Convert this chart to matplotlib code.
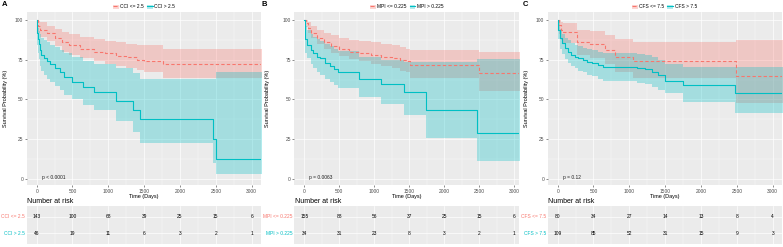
import numpy as np
import matplotlib
matplotlib.use('Agg')
import matplotlib.pyplot as plt
from matplotlib.patches import Patch
from matplotlib.lines import Line2D

plt.rcParams['font.family'] = ['Liberation Sans', 'DejaVu Sans']

RED = '#F8766D'
TEAL = '#00BFC4'
BG = '#EBEBEB'

# ---- panel A : CCI ----
a_lo_t  = [0, 20, 50, 150, 250, 350, 450, 600, 800, 950, 1100, 1250, 1400, 1500, 1767]
a_lo_s  = [100, 96, 94, 92, 89, 86, 84, 82, 80, 79, 77.5, 76.5, 75, 74, 72]
a_lo_l  = [100, 92, 89.5, 86.5, 83.5, 80, 78, 76, 74, 72.5, 71, 70, 68.5, 67.5, 63.3]
a_lo_u  = [100, 99.5, 98.5, 96.5, 94.5, 92.5, 91, 89.5, 88, 87, 86, 85, 84.5, 84, 81.7]

a_hi_t  = [0, 10, 20, 30, 45, 60, 100, 140, 190, 250, 320, 380, 500, 640, 800, 1100, 1350, 1440, 2460, 2500]
a_hi_s  = [100, 92, 88, 85, 81, 78, 76, 74, 72, 70, 67, 64, 61, 57.5, 54.5, 49, 43, 37.5, 25, 12.5]
a_hi_l  = [100, 84, 79, 75.5, 71, 68, 65.5, 63, 61, 58.5, 56, 53, 50, 46.5, 43, 36.5, 29.5, 22.7, 9.7, 2.8]
a_hi_u  = [100, 97, 95, 93, 91, 89, 87.5, 86, 84.5, 83, 81, 79, 77, 74.5, 72.5, 70, 66.5, 63, 63, 67.4]

# ---- panel B : MPI ----
b_lo_t  = [0, 20, 50, 100, 180, 280, 380, 500, 640, 780, 950, 1100, 1250, 1370, 1450, 1510, 2496]
b_lo_s  = [100, 98, 95, 92, 89, 86, 83.5, 82, 80, 79, 78, 77, 76, 75, 74, 71.6, 66.8]
b_lo_l  = [100, 95.5, 92, 88.5, 85, 82, 79.5, 77.5, 75.5, 74, 72.5, 71, 69.5, 68, 67, 63.3, 55.5]
b_lo_u  = [100, 99.8, 98.5, 96, 94, 92, 90.5, 89, 87.5, 87, 86, 85, 84, 83, 82, 81.1, 80]

b_hi_t  = [0, 5, 15, 40, 90, 130, 180, 230, 300, 360, 420, 480, 780, 1090, 1430, 1740, 2465]
b_hi_s  = [100, 93, 88, 84, 81, 79, 77, 75.8, 73, 71, 69, 67.4, 62.8, 59.7, 54.4, 43.3, 29]
b_hi_l  = [100, 85, 79.5, 76, 72.5, 70, 67.5, 65.5, 63, 61, 59, 57, 51.5, 47, 40, 25.8, 11.3]
b_hi_u  = [100, 98, 96, 93.5, 91, 89.5, 88, 87, 85, 83.5, 82, 80.5, 77, 75, 73.7, 73.7, 75.2]

# ---- panel C : CFS ----
c_lo_t  = [0, 15, 40, 78, 265, 451, 660, 800, 1055, 2487]
c_lo_s  = [100, 97, 94, 92.6, 85.9, 84.7, 81.1, 76.9, 74.2, 64.7]
c_lo_l  = [100, 91, 87.5, 85.5, 78, 76, 72, 67, 63.3, 47.9]
c_lo_u  = [100, 99.8, 99, 98, 94, 93, 90.5, 88, 85.9, 87.4]

c_hi_t  = [0, 10, 32, 65, 100, 148, 186, 241, 288, 358, 404, 474, 567, 637, 1102, 1218, 1311, 1400, 1500, 1750, 2480]
c_hi_s  = [100, 94, 88.5, 85.3, 82.2, 80.1, 78, 77, 75.9, 74.8, 73.7, 72.7, 71.6, 70.2, 69.5, 68.9, 67.4, 65.5, 61.8, 59.0, 53.8]
c_hi_l  = [100, 88, 82, 78.5, 75.5, 73, 71, 69.5, 68, 67, 65.5, 64.5, 63, 61.5, 60.5, 59.5, 58, 56, 53.8, 48.5, 41.2]
c_hi_u  = [100, 98, 94.5, 91.5, 89, 87.5, 85.5, 84.5, 83.5, 82.5, 81.5, 81, 80, 79, 78.5, 78, 76.5, 75, 72, 70.6, 70.6]

# number at risk
risk_times = [0, 500, 1000, 1500, 2000, 2500, 3000]
a_risk_lo = [143, 100, 68, 39, 25, 15, 6]
a_risk_hi = [46, 19, 11, 6, 3, 2, 1]
b_risk_lo = [155, 88, 56, 37, 25, 15, 6]
b_risk_hi = [34, 31, 23, 8, 3, 2, 1]
c_risk_lo = [80, 34, 27, 14, 13, 8, 4]
c_risk_hi = [109, 85, 52, 31, 15, 9, 3]

a_labels = ['CCI <= 2.5', 'CCI > 2.5']
b_labels = ['MPI <= 0.225', 'MPI > 0.225']
c_labels = ['CFS <= 7.5', 'CFS > 7.5']
pvals = ['p < 0.0001', 'p = 0.0063', 'p = 0.12']

W, H = 783, 247
fig = plt.figure(figsize=(W / 100, H / 100), dpi=100)


def rect(l, t, r, b):
    return [l / W, 1 - b / H, (r - l) / W, (b - t) / H]


def style(ax, xlim):
    ax.set_facecolor(BG)
    for sp in ax.spines.values():
        sp.set_visible(False)
    ax.set_xlim(*xlim)
    ax.set_xticks(np.arange(0, 3001, 500))
    ax.set_xticks(np.arange(250, 3001, 500), minor=True)
    ax.grid(which='major', color='white', lw=0.5)
    ax.grid(which='minor', color='white', lw=0.25)
    ax.set_axisbelow(True)
    ax.tick_params(which='both', labelsize=3.5, length=1.5, width=0.4, color='#333333',
                   labelcolor='#4D4D4D', pad=1)
    ax.tick_params(which='minor', length=0)


def km(ax, t, s, lo, hi, color, ls, end=3300):
    tt = list(t) + [end]
    ax.fill_between(tt, list(lo) + [lo[-1]], list(hi) + [hi[-1]], step='post',
                    color=color, alpha=0.3, lw=0)
    ax.step(tt, list(s) + [s[-1]], where='post', color=color, ls=ls, lw=0.8,
            dashes=(3, 2) if ls == '--' else (None, None))


panels = [
    ('A', 26.7, 261, (-139, 3130), 3, 2, a_labels,
     (a_lo_t, a_lo_s, a_lo_l, a_lo_u), (a_hi_t, a_hi_s, a_hi_l, a_hi_u), a_risk_lo, a_risk_hi),
    ('B', 294.3, 519, (-143, 3067), 265, 262, b_labels,
     (b_lo_t, b_lo_s, b_lo_l, b_lo_u), (b_hi_t, b_hi_s, b_hi_l, b_hi_u), b_risk_lo, b_risk_hi),
    ('C', 547.7, 781.5, (-139, 3123), 524, 523, c_labels,
     (c_lo_t, c_lo_s, c_lo_l, c_lo_u), (c_hi_t, c_hi_s, c_hi_l, c_hi_u), c_risk_lo, c_risk_hi),
]

for i, (letter, left, right, xlim, ylab_x, let_x, labels, g1, g2, r1, r2) in enumerate(panels):
    ax = fig.add_axes(rect(left, 12.3, right, 185.3))
    style(ax, xlim)
    ax.set_ylim(-4.2, 104.9)
    ax.set_yticks([0, 25, 50, 75, 100])
    ax.set_yticks([12.5, 37.5, 62.5, 87.5], minor=True)
    km(ax, *g1, RED, '--')
    km(ax, *g2, TEAL, '-')
    ax.text(70, 1, pvals[i], fontsize=3.5, va='center', ha='left', color='#222222')
    ax.set_xlabel('Time (Days)', fontsize=4, labelpad=0.5)
    fig.text(ylab_x / W, 1 - 98.8 / H, 'Survival Probability (%)', rotation=90,
             fontsize=4, ha='left', va='center')
    fig.text(let_x / W, 1 - 4 / H, letter, fontsize=5.5,
             fontweight='bold', ha='left', va='center')

    handles = [(Patch(fc=RED, alpha=0.3, lw=0), Line2D([], [], color=RED, ls='--', lw=0.8)),
               (Patch(fc=TEAL, alpha=0.3, lw=0), Line2D([], [], color=TEAL, lw=0.8))]
    ax.legend(handles, labels, loc='lower center', bbox_to_anchor=(0.5, 1.0), ncol=2,
              frameon=False, fontsize=3.5, handlelength=1.2, handleheight=1.0,
              columnspacing=0.6, handletextpad=0.3, borderaxespad=0.5, borderpad=0.1)

    # risk table
    tb = fig.add_axes(rect(left, 206, right, 244))
    style(tb, xlim)
    tb.set_ylim(0.36, 2.64)
    tb.set_yticks([1, 2])
    tb.tick_params(labelbottom=False, labelleft=False, length=0)
    for x, n1, n2 in zip(risk_times, r1, r2):
        tb.text(x, 2, str(n1), fontsize=3.5, ha='center', va='center')
        tb.text(x, 1, str(n2), fontsize=3.5, ha='center', va='center')
    tb.text(-0.008, 2, labels[0], transform=tb.get_yaxis_transform(), fontsize=3.5,
            ha='right', va='center', color=RED)
    tb.text(-0.008, 1, labels[1], transform=tb.get_yaxis_transform(), fontsize=3.5,
            ha='right', va='center', color=TEAL)
    fig.text((left + 0.5) / W, 1 - 201 / H, 'Number at risk', fontsize=5, ha='left', va='center')

fig.savefig('out.png', dpi=100)
